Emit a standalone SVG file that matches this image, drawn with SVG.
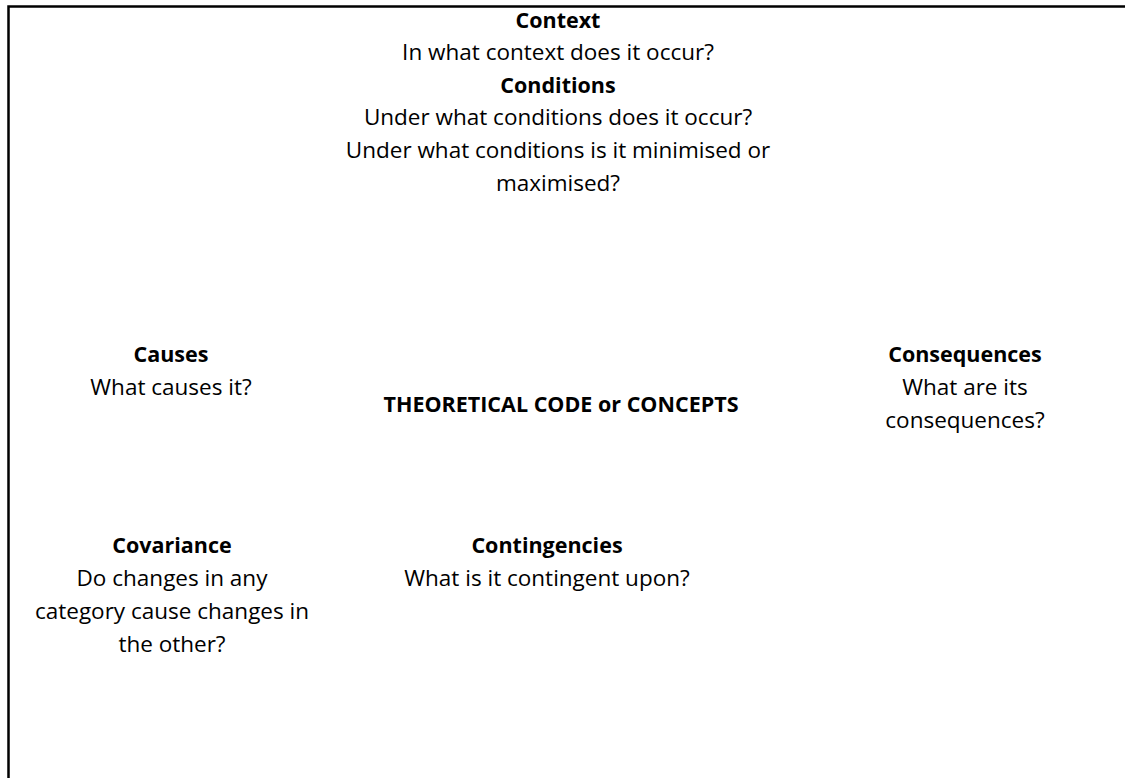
<svg xmlns="http://www.w3.org/2000/svg" width="1125" height="778" viewBox="0 0 1125 778">
  <style>
    text { font-family: "Open Sans", "Liberation Sans", sans-serif; font-size: 22.5px; fill: #000; text-anchor: middle; }
    .title { font-weight: bold; font-size: 21.5px; }
    .frame { stroke: #000; stroke-width: 2.5; fill: none; }
  </style>
  <rect width="1125" height="778" fill="#fff"/>
  <!-- open frame: top and left edges only -->
  <path class="frame" d="M8.5 778 V6.5 H1125"/>

  <g id="context">
    <text class="title" x="558" y="28">Context</text>
    <text x="558" y="60">In what context does it occur?</text>
  </g>
  <g id="conditions">
    <text class="title" x="558" y="93">Conditions</text>
    <text x="558" y="125">Under what conditions does it occur?</text>
    <text x="558" y="158">Under what conditions is it minimised or</text>
    <text x="558" y="191">maximised?</text>
  </g>
  <g id="causes">
    <text class="title" x="171" y="362">Causes</text>
    <text x="171" y="395">What causes it?</text>
  </g>
  <g id="concept">
    <text class="title" x="561" y="412">THEORETICAL CODE or CONCEPTS</text>
  </g>
  <g id="consequences">
    <text class="title" x="965" y="362">Consequences</text>
    <text x="965" y="395">What are its</text>
    <text x="965" y="428">consequences?</text>
  </g>
  <g id="covariance">
    <text class="title" x="172" y="553">Covariance</text>
    <text x="172" y="586">Do changes in any</text>
    <text x="172" y="619">category cause changes in</text>
    <text x="172" y="652">the other?</text>
  </g>
  <g id="contingencies">
    <text class="title" x="547" y="553">Contingencies</text>
    <text x="547" y="586">What is it contingent upon?</text>
  </g>
  <g id="connectors"></g>
</svg>
